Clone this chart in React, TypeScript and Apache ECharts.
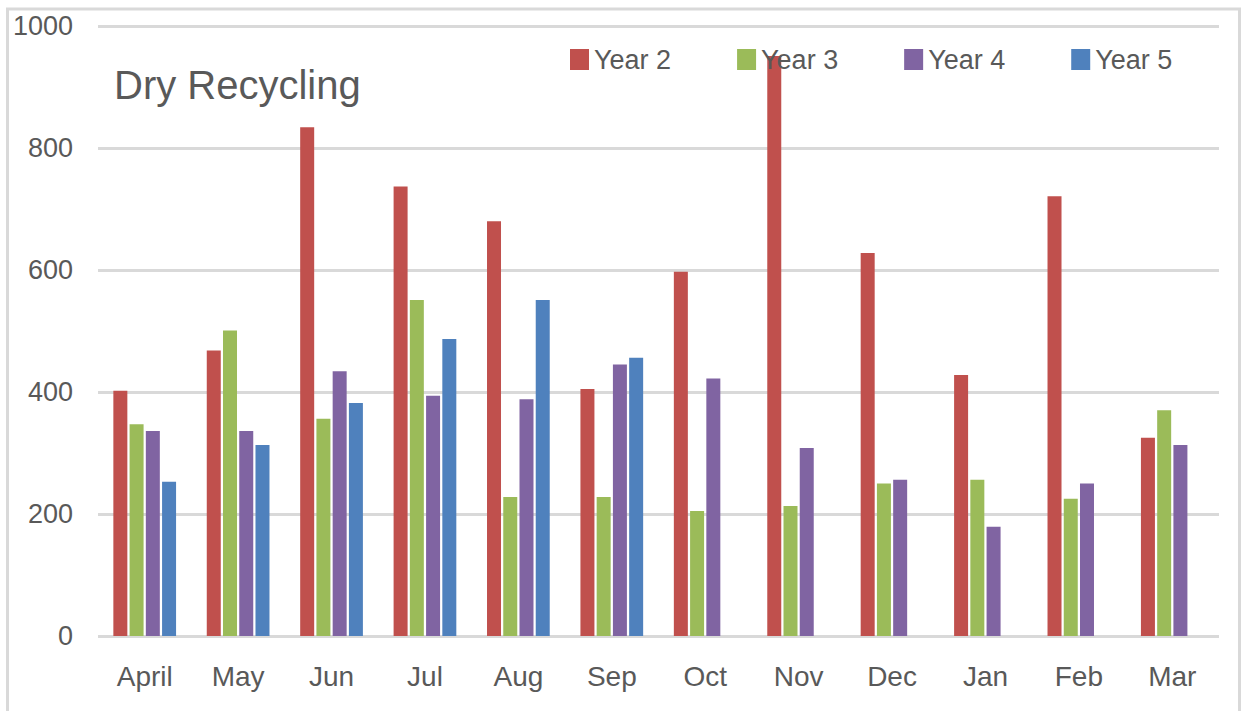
import React, { useEffect, useRef } from "react";
import * as echarts from "echarts";

const months = ["April", "May", "Jun", "Jul", "Aug", "Sep", "Oct", "Nov", "Dec", "Jan", "Feb", "Mar"];
const seriesNames = ["Year 2", "Year 3", "Year 4", "Year 5"];
const year2 = [402, 468, 834, 737, 680, 405, 597, 951, 628, 428, 721, 325];
const year3 = [347, 501, 356, 551, 228, 228, 205, 213, 250, 256, 225, 370];
const year4 = [336, 336, 434, 394, 388, 445, 422, 308, 256, 179, 250, 313];
const year5 = [253, 313, 382, 487, 551, 456, null, null, null, null, null, null];
const colors = ["#C0504D", "#9BBB59", "#8064A2", "#4F81BD"];
const titleText = "Dry Recycling";

const FONT = "'Liberation Sans', Arial, sans-serif";
const TEXT = "#595959";

export default function App() {
  const ref = useRef<HTMLDivElement>(null);
  useEffect(() => {
    if (!ref.current) return;
    const chart = echarts.init(ref.current, undefined, { renderer: "svg" });
    const values = [year2, year3, year4, year5];
    chart.setOption({
      animation: false,
      backgroundColor: "#ffffff",
      color: colors,
      title: {
        text: titleText,
        left: 114,
        top: 65,
        padding: 0,
        textStyle: { fontFamily: FONT, fontSize: 40, fontWeight: "normal", color: TEXT },
      },
      legend: {
        data: seriesNames,
        left: 570,
        top: 46,
        padding: 0,
        itemWidth: 19,
        itemHeight: 21,
        itemGap: 66,
        icon: "rect",
        textStyle: { fontFamily: FONT, fontSize: 27, color: TEXT, padding: [0, 0, 5, 0] },
      },
      grid: { left: 98, right: 22, top: 26, bottom: 75, containLabel: false },
      xAxis: {
        type: "category",
        data: months,
        axisLine: { show: false },
        axisTick: { show: false },
        axisLabel: { fontFamily: FONT, fontSize: 28, color: TEXT, margin: 26 },
      },
      yAxis: {
        type: "value",
        min: 0,
        max: 1000,
        interval: 200,
        axisLine: { show: false },
        axisTick: { show: false },
        axisLabel: {
          fontFamily: FONT,
          fontSize: 27,
          color: TEXT,
          margin: 25,
          formatter: (v: number) => String(v),
        },
        splitLine: { lineStyle: { color: "#D9D9D9", width: 3 } },
      },
      graphic: [
        {
          type: "rect",
          shape: { x: 7.5, y: 9, width: 1232, height: 800 },
          style: { fill: "none", stroke: "#D9D9D9", lineWidth: 3 },
          silent: true,
        },
      ],
      series: seriesNames.map((name, i) => ({
        name,
        type: "bar",
        data: values[i],
        barWidth: 14,
        barGap: "16%",
        itemStyle: { color: colors[i] },
      })),
    });
    return () => chart.dispose();
  }, []);
  return (
    <div
      ref={ref}
      style={{ position: "absolute", left: 0, top: 0, width: 1241, height: 711 }}
    />
  );
}
